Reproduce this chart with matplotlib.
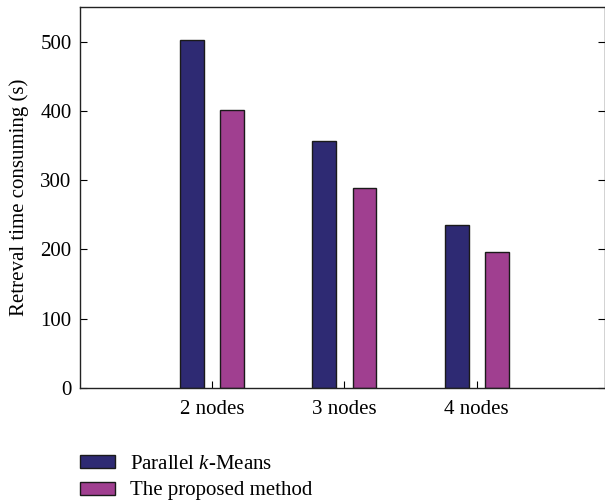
import numpy as np
import matplotlib
matplotlib.use("Agg")
import matplotlib.pyplot as plt

plt.rcParams["font.family"] = ["Liberation Serif", "DejaVu Serif"]
plt.rcParams["mathtext.fontset"] = "custom"
plt.rcParams["mathtext.rm"] = "Liberation Serif"
plt.rcParams["mathtext.it"] = "Liberation Serif:italic"

groups = ["2 nodes", "3 nodes", "4 nodes"]
kmeans_time = [503, 356, 236]
proposed_time = [402, 288, 197]
series_names = ["Parallel $k$-Means", "The proposed method"]
yticks = [0, 100, 200, 300, 400, 500]

fig = plt.figure(figsize=(6.05, 5.01), dpi=100)
ax = fig.add_axes([80 / 605, 113 / 501, 525 / 605, 381 / 501])

x = np.arange(1, len(groups) + 1)
w = 0.18
off = 0.152
b1 = ax.bar(x - off, kmeans_time, w, color="#2e2a73", edgecolor="#1a1a1a",
            linewidth=1.0, label=series_names[0])
b2 = ax.bar(x + off, proposed_time, w, color="#a03f90", edgecolor="#1a1a1a",
            linewidth=1.0, label=series_names[1])

fs = 15
ax.set_xlim(0, 3.97)
ax.set_ylim(0, 550)
ax.set_xticks(x)
ax.set_xticklabels(groups, fontsize=fs)
ax.set_yticks(yticks)
ax.tick_params(axis="y", labelsize=fs, direction="in", length=5, right=True,
               pad=6)
ax.tick_params(axis="x", direction="in", length=5, pad=9)
ax.set_ylabel("Retreval time consuming (s)", fontsize=fs, labelpad=8)
for sp in ax.spines.values():
    sp.set_color("#222222")
    sp.set_linewidth(1.0)

fig.legend(handles=[b1, b2], loc="upper left",
           bbox_to_anchor=(80 / 605, 1 - 455 / 501), frameon=False,
           fontsize=fs, handlelength=1.7, handleheight=0.58,
           handletextpad=0.72, labelspacing=0.36, borderpad=0,
           borderaxespad=0)

fig.savefig("out.png", dpi=100)
